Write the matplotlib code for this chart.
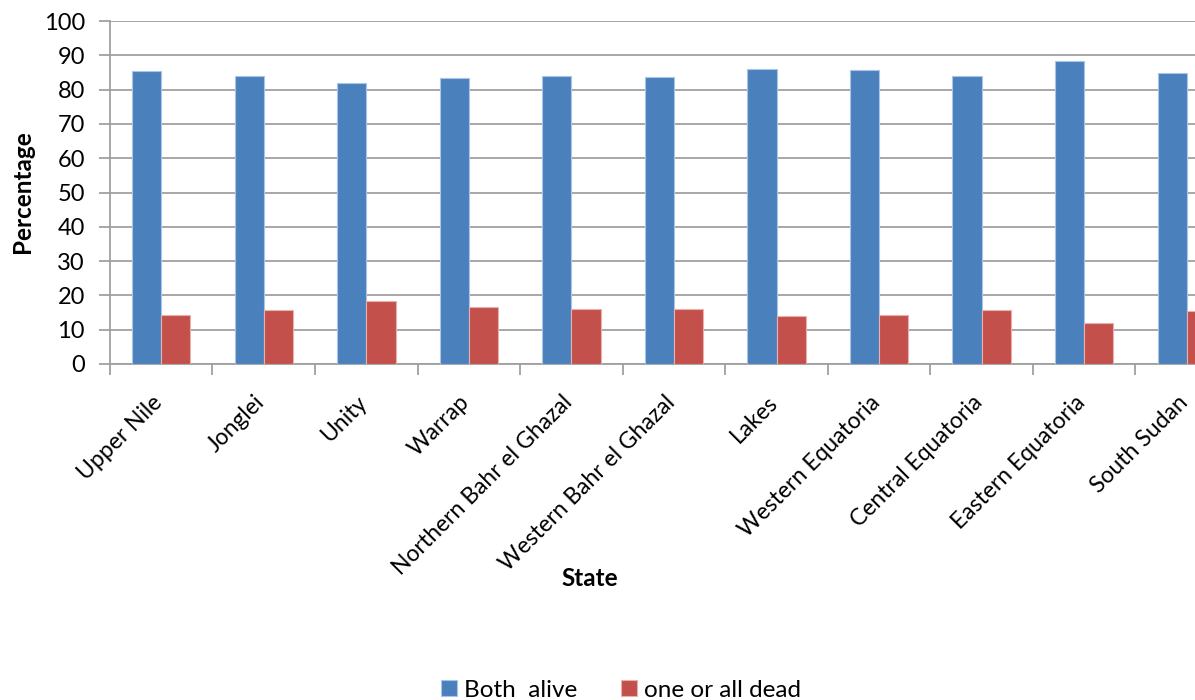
import matplotlib.pyplot as plt
import matplotlib.transforms as mtransforms
import numpy as np

plt.rcParams['font.family'] = ['Lato', 'DejaVu Sans']

states = ['Upper Nile', 'Jonglei', 'Unity', 'Warrap', 'Northern Bahr el Ghazal',
          'Western Bahr el Ghazal', 'Lakes', 'Western Equatoria',
          'Central Equatoria', 'Eastern Equatoria', 'South Sudan']
both_alive = [85.5, 84.1, 81.8, 83.4, 84.1, 83.7, 86.0, 85.6, 84.1, 88.2, 84.9]
one_dead = [14.3, 15.7, 18.4, 16.5, 16.1, 16.1, 13.9, 14.2, 15.7, 12.0, 15.4]

blue = '#4a81bc'
red = '#c3504b'
grey = '#a0a0a0'


def main():
    fig = plt.figure(figsize=(11.95, 7), dpi=100)
    # plot area runs past the right edge of the picture, as in the original
    ax = fig.add_axes([0.092, 0.48, 0.944, 0.49])

    x = np.arange(len(states))
    w = 0.285
    ax.bar(x - w / 2, both_alive, w, color=blue, edgecolor='#a9c4e6',
           linewidth=0.8, label='Both  alive', zorder=3)
    ax.bar(x + w / 2, one_dead, w, color=red, edgecolor='#eab0ae',
           linewidth=0.8, label='one or all dead', zorder=3)

    ax.set_xlim(-0.5, len(states) - 0.5)
    ax.set_ylim(0, 100)
    ax.set_yticks(range(0, 101, 10))
    ax.yaxis.grid(True, color=grey, linewidth=1.3, zorder=0)

    ax.set_xticks(x)
    ax.set_xticklabels(states, rotation=45, ha='right', rotation_mode='anchor',
                       fontsize=16.5)
    ax.set_xticks(np.arange(-0.5, len(states), 1), minor=True)
    ax.tick_params(axis='x', which='major', length=0, pad=20)
    ax.tick_params(axis='x', which='minor', length=8, color=grey, width=1.3)
    ax.tick_params(axis='y', length=8, color=grey, width=1.3, labelsize=17, pad=10)
    # nudge the slanted labels a little to the left
    shift = mtransforms.ScaledTranslation(-10 / 100, 0, fig.dpi_scale_trans)
    for lab in ax.get_xticklabels():
        lab.set_transform(lab.get_transform() + shift)

    for side in ['top', 'right']:
        ax.spines[side].set_visible(False)
    for side in ['left', 'bottom']:
        ax.spines[side].set_color(grey)
        ax.spines[side].set_linewidth(1.3)

    fig.text(23 / 1195, 1 - 192 / 700, 'Percentage', fontsize=17.5,
             fontweight='bold', rotation=90, ha='center', va='center')
    fig.text(590 / 1195, 1 - 578 / 700, 'State', fontsize=17.5,
             fontweight='bold', ha='center', va='center')

    fig.legend(loc='center', bbox_to_anchor=(0.52, 0.014), ncol=2,
               frameon=False, fontsize=17.5, handlelength=0.65, handleheight=0.65,
               handletextpad=0.3, columnspacing=1.8)

    fig.savefig('out.png', dpi=100)


if __name__ == '__main__':
    main()
